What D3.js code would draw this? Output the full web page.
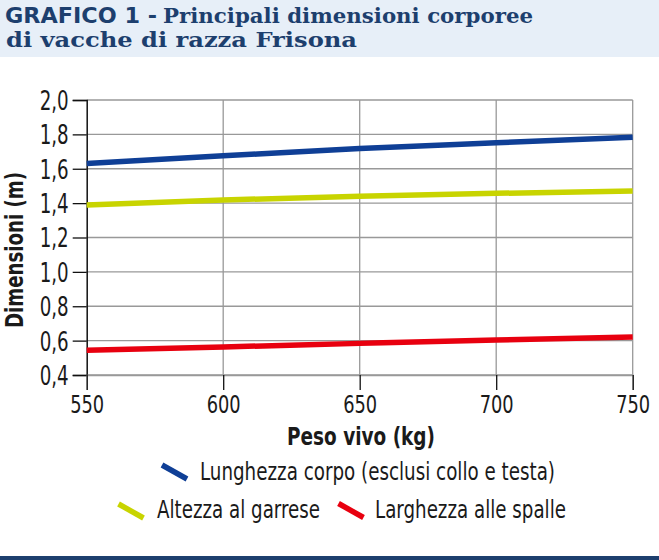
<!DOCTYPE html>
<html><head><meta charset="utf-8">
<script src="https://cdn.jsdelivr.net/npm/d3@7/dist/d3.min.js"></script>
<style>body{margin:0;background:#fff}svg{display:block}</style>
</head><body>
<script>
const pesoVivo = [550, 600, 650, 700, 750];
const lunghezza = [1.63, 1.675, 1.718, 1.751, 1.783];
const altezza = [1.389, 1.418, 1.44, 1.457, 1.47];
const larghezza = [0.544, 0.563, 0.584, 0.604, 0.621];
const yTicks = [0.4, 0.6, 0.8, 1.0, 1.2, 1.4, 1.6, 1.8, 2.0];
const xTicks = [550, 600, 650, 700, 750];
const seriesNames = ["Lunghezza corpo (esclusi collo e testa)", "Altezza al garrese", "Larghezza alle spalle"];
const seriesColors = ["#0f3f96", "#c8d400", "#e8000f"];

const W = 659, H = 560;
const svg = d3.select("body").append("svg").attr("width", W).attr("height", H);
const navy = "#1d3f6e";
const sans = "'DejaVu Sans', sans-serif";
const serif = "'DejaVu Serif', serif";

function fit(sel, len) {
  return sel.attr("textLength", len).attr("lengthAdjust", "spacingAndGlyphs");
}

// title band
svg.append("rect").attr("x", 0).attr("y", 0).attr("width", W).attr("height", 57).attr("fill", "#e7eff8");
const title = svg.append("text").attr("fill", navy).attr("font-weight", "bold").attr("font-stretch", "condensed");
fit(title.append("tspan").attr("x", 5).attr("y", 22.5).attr("font-family", sans).attr("font-size", 21.5)
  .text("GRAFICO 1 -"), 152);
fit(title.append("tspan").attr("x", 163).attr("y", 22.5).attr("font-family", serif).attr("font-size", 21)
  .text("Principali dimensioni corporee"), 370);
fit(title.append("tspan").attr("x", 6).attr("y", 47).attr("font-family", serif).attr("font-size", 21)
  .text("di vacche di razza Frisona"), 351);

// bottom bar
svg.append("rect").attr("x", 0).attr("y", 556).attr("width", W).attr("height", 4).attr("fill", navy);

const x = d3.scaleLinear().domain([550, 750]).range([86.7, 632.7]);
const y = d3.scaleLinear().domain([0.4, 2.0]).range([375, 100]);

const g = svg.append("g");
g.selectAll(".hg").data(yTicks).join("line")
  .attr("x1", x(550)).attr("x2", x(750)).attr("y1", d => y(d)).attr("y2", d => y(d))
  .attr("stroke", "#999").attr("stroke-width", 1.3);
g.selectAll(".vg").data(xTicks.slice(1)).join("line")
  .attr("x1", d => x(d)).attr("x2", d => x(d)).attr("y1", y(0.4)).attr("y2", y(2.0))
  .attr("stroke", "#999").attr("stroke-width", 1.3);

// y axis
const yAxis = d3.axisLeft(y).tickValues(yTicks).tickSize(14).tickPadding(4)
  .tickFormat(d => d3.format(".1f")(d).replace(".", ","));
const ya = svg.append("g").attr("transform", `translate(${x(550)},0)`).call(yAxis);
ya.select(".domain").attr("stroke", "#111").attr("stroke-width", 1.5);
ya.selectAll(".tick line").attr("stroke", "#111").attr("stroke-width", 1.3);
fit(ya.selectAll(".tick text").attr("font-family", sans).attr("font-stretch", "condensed").attr("font-size", 26)
  .attr("fill", "#1a1a1a").attr("dy", "0.36em"), 29);

// x axis
const xAxis = d3.axisBottom(x).tickValues(xTicks).tickSize(15).tickPadding(3).tickFormat(d3.format("d"));
const xa = svg.append("g").attr("transform", `translate(0,${y(0.4)})`).call(xAxis);
xa.select(".domain").attr("stroke", "#999").attr("stroke-width", 1.3);
xa.selectAll(".tick line").attr("stroke", "#111").attr("stroke-width", 1.3);
fit(xa.selectAll(".tick text").attr("font-family", sans).attr("font-stretch", "condensed").attr("font-size", 25)
  .attr("fill", "#1a1a1a").attr("dy", "0.81em"), 34);

// axis titles
fit(svg.append("text").attr("x", 361).attr("y", 444.5).attr("text-anchor", "middle")
  .attr("font-family", sans).attr("font-stretch", "condensed").attr("font-weight", "bold").attr("font-size", 24).attr("fill", "#1a1a1a")
  .text("Peso vivo (kg)"), 148);
fit(svg.append("text").attr("transform", "translate(23,250) rotate(-90)").attr("text-anchor", "middle")
  .attr("font-family", sans).attr("font-stretch", "condensed").attr("font-weight", "bold").attr("font-size", 24).attr("fill", "#1a1a1a")
  .text("Dimensioni (m)"), 156);

// lines
const series = [lunghezza, altezza, larghezza];
const line = d3.line().x((d, i) => x(pesoVivo[i])).y(d => y(d)).curve(d3.curveMonotoneX);
series.forEach((s, k) => {
  svg.append("path").datum(s).attr("d", line).attr("fill", "none")
    .attr("stroke", seriesColors[k]).attr("stroke-width", 5.5);
});

// legend
const legendPos = [
  {sx: 162, sy: 465, tx: 200, ty: 480, len: 355},
  {sx: 118.5, sy: 504, tx: 157, ty: 518.3, len: 163},
  {sx: 338.5, sy: 503.5, tx: 375, ty: 518.3, len: 191}
];
legendPos.forEach((p, k) => {
  svg.append("line").attr("x1", p.sx).attr("y1", p.sy).attr("x2", p.sx + 25).attr("y2", p.sy + 14)
    .attr("stroke", seriesColors[k]).attr("stroke-width", 5.5);
  fit(svg.append("text").attr("x", p.tx).attr("y", p.ty).attr("font-family", sans).attr("font-stretch", "condensed")
    .attr("font-size", 24).attr("fill", "#1a1a1a").text(seriesNames[k]), p.len);
});
</script>
</body></html>
